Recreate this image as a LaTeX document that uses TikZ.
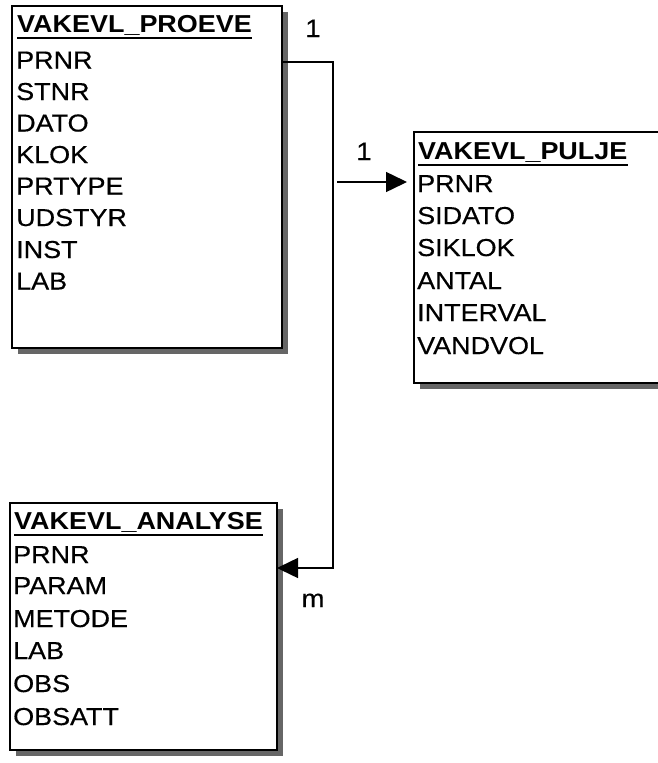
\documentclass[tikz,border=0pt]{standalone}
\usepackage{fontspec}
\setmainfont{Liberation Sans}[FakeStretch=1.1, UprightFeatures={FakeBold=0.4}]
\usetikzlibrary{positioning, calc, arrows.meta, shadows}

\begin{document}
\begin{tikzpicture}[x=1pt, y=-1pt]

	\tikzstyle{tablebox}=[rectangle, draw=black, line width=1.7pt, fill=white, anchor=north west, outer sep=0pt, inner sep=0pt, drop shadow={shadow xshift=6pt, shadow yshift=-6pt, fill=black!60, opacity=1}]
	\tikzstyle{field}=[anchor=base west, inner sep=0pt, font=\fontsize{24.5}{28}\selectfont]
	\tikzstyle{tabletitle}=[field, font=\fontsize{24.5}{28}\selectfont\bfseries]
	\tikzstyle{card}=[anchor=base, inner sep=0pt, font=\fontsize{25}{28}\selectfont]
	\tikzstyle{link}=[line width=1.5pt]
	\tikzstyle{linkarrow}=[link, -{Triangle[length=21pt, width=20pt]}]

	\useasboundingbox (0,0) rectangle (657,763);

	%% tables
	\node (proeve) at (12,6) [tablebox, minimum width=270pt, minimum height=342pt] {};
	\node (pulje) at (414,132) [tablebox, minimum width=290pt, minimum height=251pt] {};
	\node (analyse) at (10,503) [tablebox, minimum width=267pt, minimum height=247pt] {};

	\node (proeve-title) at (17,32) [tabletitle] {VAKEVL\_PROEVE};
	\node (proeve-prnr) at (16,68.5) [field] {PRNR};
	\node (proeve-stnr) at (16,100) [field] {STNR};
	\node (proeve-dato) at (16,131.5) [field] {DATO};
	\node (proeve-klok) at (16,163) [field] {KLOK};
	\node (proeve-prtype) at (16,194.5) [field] {PRTYPE};
	\node (proeve-udstyr) at (16,226) [field] {UDSTYR};
	\node (proeve-inst) at (16,258) [field] {INST};
	\node (proeve-lab) at (16,289.5) [field] {LAB};

	\node (pulje-title) at (418,159) [tabletitle] {VAKEVL\_PULJE};
	\node (pulje-prnr) at (417,192) [field] {PRNR};
	\node (pulje-sidato) at (417,224) [field] {SIDATO};
	\node (pulje-siklok) at (417,256) [field] {SIKLOK};
	\node (pulje-antal) at (417,289) [field] {ANTAL};
	\node (pulje-interval) at (417,321) [field] {INTERVAL};
	\node (pulje-vandvol) at (417,354) [field] {VANDVOL};

	\node (analyse-title) at (14,529) [tabletitle] {VAKEVL\_ANALYSE};
	\node (analyse-prnr) at (13,563) [field] {PRNR};
	\node (analyse-param) at (13,594) [field] {PARAM};
	\node (analyse-metode) at (13,627) [field] {METODE};
	\node (analyse-lab) at (13,659) [field] {LAB};
	\node (analyse-obs) at (13,692) [field] {OBS};
	\node (analyse-obsatt) at (13,725) [field] {OBSATT};

	%% underlined table names
	\draw [line width=2.6pt] ($(proeve-title.base west)+(0,6)$) -- ($(proeve-title.base east)+(0,6)$);
	\draw [line width=2.6pt] ($(pulje-title.base west)+(0,6)$) -- ($(pulje-title.base east)+(0,6)$);
	\draw [line width=2.6pt] ($(analyse-title.base west)+(0,6)$) -- ($(analyse-title.base east)+(0,6)$);

	%% relations
	\coordinate (trunktop) at (333,62);
	\coordinate (trunkbot) at (333,568);
	\coordinate (branch) at (337,182);

	\draw [linkarrow] (proeve.east |- trunktop) -- (trunktop) -- (trunkbot) -- (analyse.east |- trunkbot);
	\draw [linkarrow, shorten >=7pt] (branch) -- (pulje.west |- branch);

	\node (card-proeve) at (313,37) [card] {1};
	\node (card-pulje) at (364,160) [card] {1};
	\node (card-analyse) at (313,607) [card] {m};
\end{tikzpicture}
\end{document}
